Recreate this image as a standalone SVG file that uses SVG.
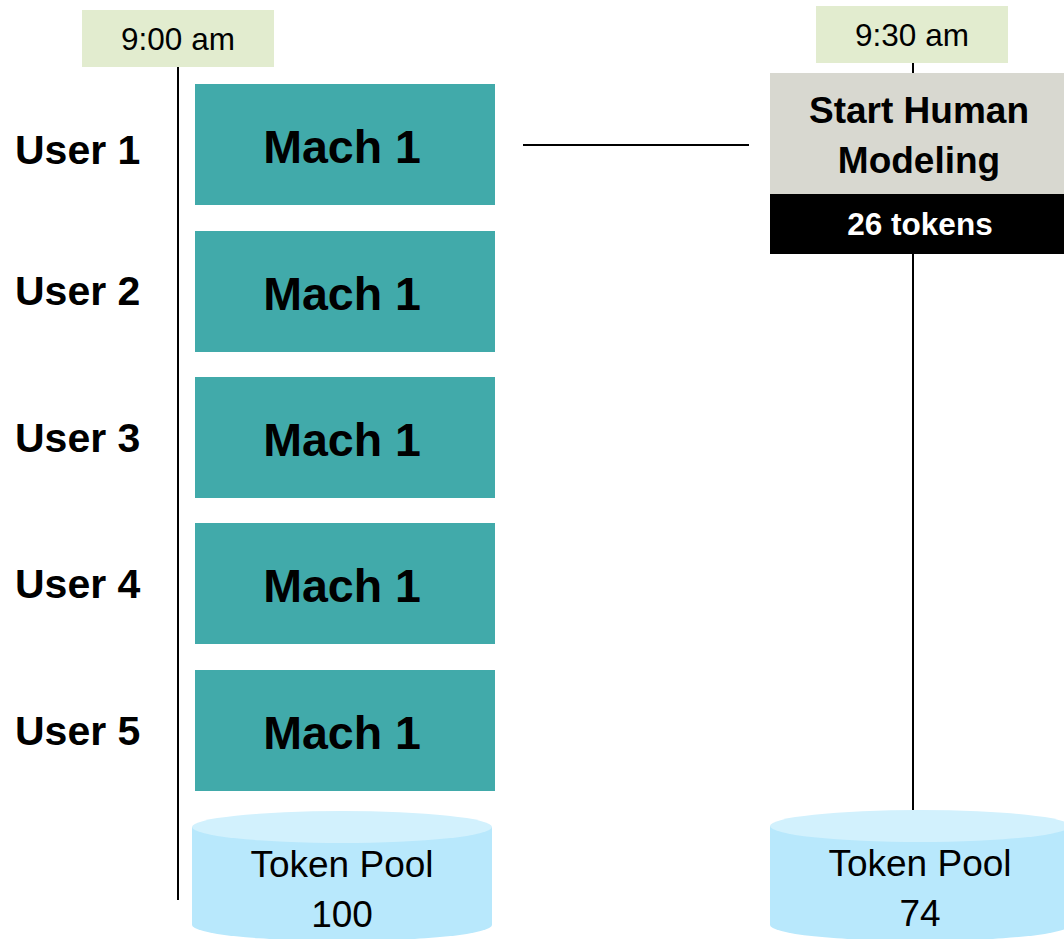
<svg xmlns="http://www.w3.org/2000/svg" width="1064" height="939" viewBox="0 0 1064 939">
<style>
.time{fill:#E2ECCF}
.timet{font-family:"Liberation Sans",Arial,sans-serif;font-size:31.5px;fill:#000;text-anchor:middle}
.user{font-family:"Liberation Sans",Arial,sans-serif;font-size:41px;font-weight:bold;fill:#000}
.mach{fill:#41AAAA}
.macht{font-family:"Liberation Sans",Arial,sans-serif;font-size:46.5px;font-weight:bold;fill:#000;text-anchor:middle}
.line{stroke:#000;stroke-width:2;fill:none}
.body{fill:#B8E8FC}
.top{fill:#D2F1FD}
.poolt{font-family:"Liberation Sans",Arial,sans-serif;font-size:37px;fill:#000;text-anchor:middle}
</style>
<rect width="1064" height="939" fill="#fff"/>
<g id="connectors">
<line class="line" x1="178" y1="67" x2="178" y2="900"/>
<line class="line" x1="523" y1="145" x2="749" y2="145"/>
<line class="line" x1="913" y1="63" x2="913" y2="74"/>
<line class="line" x1="913" y1="254" x2="913" y2="810"/>
</g>
<g id="time1"><rect class="time" x="82" y="10" width="192" height="57"/><text class="timet" x="178" y="50">9:00 am</text></g>
<g id="time2"><rect class="time" x="816" y="6" width="192" height="57"/><text class="timet" x="912" y="46">9:30 am</text></g>
<g id="user1"><text class="user" x="15" y="164">User 1</text></g>
<g id="user2"><text class="user" x="15" y="305">User 2</text></g>
<g id="user3"><text class="user" x="15" y="452">User 3</text></g>
<g id="user4"><text class="user" x="15" y="598">User 4</text></g>
<g id="user5"><text class="user" x="15" y="745">User 5</text></g>
<g id="mach1"><rect class="mach" x="195" y="84" width="300" height="121"/><text class="macht" x="342" y="163">Mach 1</text></g>
<g id="mach2"><rect class="mach" x="195" y="231" width="300" height="121"/><text class="macht" x="342" y="310">Mach 1</text></g>
<g id="mach3"><rect class="mach" x="195" y="377" width="300" height="121"/><text class="macht" x="342" y="456">Mach 1</text></g>
<g id="mach4"><rect class="mach" x="195" y="523" width="300" height="121"/><text class="macht" x="342" y="602">Mach 1</text></g>
<g id="mach5"><rect class="mach" x="195" y="670" width="300" height="121"/><text class="macht" x="342" y="749">Mach 1</text></g>
<g id="human">
<rect x="770" y="73" width="300" height="121" fill="#D8D8D0"/>
<text x="919" y="123" font-family="Liberation Sans,Arial,sans-serif" font-size="37" font-weight="bold" text-anchor="middle">Start Human</text>
<text x="919" y="173" font-family="Liberation Sans,Arial,sans-serif" font-size="37" font-weight="bold" text-anchor="middle">Modeling</text>
<rect x="770" y="194" width="300" height="60" fill="#000"/>
<text x="920" y="235" font-family="Liberation Sans,Arial,sans-serif" font-size="31.5" font-weight="bold" fill="#fff" text-anchor="middle">26 tokens</text>
</g>
<g id="pool1">
<path class="body" d="M192,827 L492,827 L492,925 A150,16 0 0 1 192,925 Z"/>
<ellipse class="top" cx="342" cy="827" rx="150" ry="16"/>
<text class="poolt" x="342" y="877">Token Pool</text>
<text class="poolt" x="342" y="927">100</text>
</g>
<g id="pool2">
<path class="body" d="M770,826 L1070,826 L1070,925 A150,16 0 0 1 770,925 Z"/>
<ellipse class="top" cx="920" cy="826" rx="150" ry="16"/>
<text class="poolt" x="920" y="876">Token Pool</text>
<text class="poolt" x="920" y="926">74</text>
</g>
</svg>
